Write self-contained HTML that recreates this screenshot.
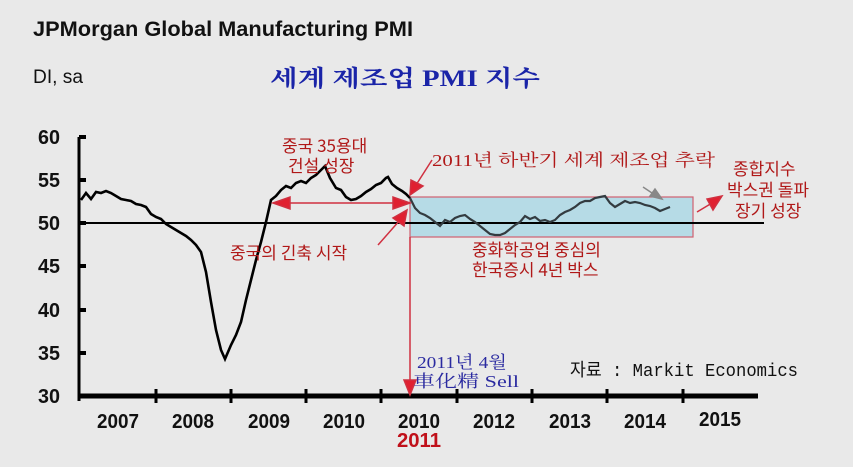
<!DOCTYPE html>
<html><head><meta charset="utf-8"><style>
body{margin:0;background:#e9e9e9;}
svg{display:block}
</style></head><body>
<svg width="853" height="467" viewBox="0 0 853 467" xmlns="http://www.w3.org/2000/svg">
<rect width="853" height="467" fill="#e9e9e9"/>
<text x="33" y="36" font-family="Liberation Sans, sans-serif" font-size="21" font-weight="bold" fill="#111" textLength="380" lengthAdjust="spacingAndGlyphs">JPMorgan Global Manufacturing PMI</text>
<text x="33" y="83" font-family="Liberation Sans, sans-serif" font-size="19" fill="#111" textLength="50" lengthAdjust="spacingAndGlyphs">DI, sa</text>
<text x="270" y="86" font-family="Liberation Serif, 'Noto Serif CJK KR', serif" font-size="23" font-weight="bold" fill="#1a24a8" textLength="270" lengthAdjust="spacingAndGlyphs">세계 제조업 PMI 지수</text>
<g font-family="Liberation Sans, sans-serif" font-size="20" font-weight="bold" fill="#111" text-anchor="end">
<text x="60" y="144" textLength="22" lengthAdjust="spacingAndGlyphs">60</text><text x="60" y="187" textLength="22" lengthAdjust="spacingAndGlyphs">55</text><text x="60" y="230" textLength="22" lengthAdjust="spacingAndGlyphs">50</text>
<text x="60" y="273" textLength="22" lengthAdjust="spacingAndGlyphs">45</text><text x="60" y="317" textLength="22" lengthAdjust="spacingAndGlyphs">40</text><text x="60" y="360" textLength="22" lengthAdjust="spacingAndGlyphs">35</text><text x="60" y="403" textLength="22" lengthAdjust="spacingAndGlyphs">30</text>
</g>
<rect x="410" y="197" width="283" height="40" fill="#b6dbe6" stroke="#d06070" stroke-width="1.2"/>
<line x1="79" y1="137" x2="79" y2="401" stroke="#000" stroke-width="3"/>
<g stroke="#000" stroke-width="4"><line x1="79" y1="137" x2="86" y2="137"/><line x1="79" y1="180" x2="86" y2="180"/><line x1="79" y1="223" x2="86" y2="223"/><line x1="79" y1="266" x2="86" y2="266"/><line x1="79" y1="310" x2="86" y2="310"/><line x1="79" y1="353" x2="86" y2="353"/></g>
<line x1="79" y1="223" x2="764" y2="223" stroke="#000" stroke-width="2"/>
<line x1="79" y1="396" x2="758" y2="396" stroke="#000" stroke-width="5"/>
<g stroke="#000" stroke-width="3"><line x1="156" y1="389" x2="156" y2="403"/><line x1="231" y1="389" x2="231" y2="403"/><line x1="306" y1="389" x2="306" y2="403"/><line x1="381" y1="389" x2="381" y2="403"/><line x1="457" y1="389" x2="457" y2="403"/><line x1="532" y1="389" x2="532" y2="403"/><line x1="607" y1="389" x2="607" y2="403"/><line x1="683" y1="389" x2="683" y2="403"/></g>
<g font-family="Liberation Sans, sans-serif" font-size="20" font-weight="bold" fill="#111" text-anchor="middle" lengthAdjust="spacingAndGlyphs">
<text x="118" y="428" textLength="42" lengthAdjust="spacingAndGlyphs">2007</text><text x="193" y="428" textLength="42" lengthAdjust="spacingAndGlyphs">2008</text><text x="269" y="428" textLength="42" lengthAdjust="spacingAndGlyphs">2009</text><text x="344" y="428" textLength="42" lengthAdjust="spacingAndGlyphs">2010</text><text x="419" y="428" textLength="42" lengthAdjust="spacingAndGlyphs">2010</text><text x="494" y="428" textLength="42" lengthAdjust="spacingAndGlyphs">2012</text><text x="570" y="428" textLength="42" lengthAdjust="spacingAndGlyphs">2013</text><text x="645" y="428" textLength="42" lengthAdjust="spacingAndGlyphs">2014</text><text x="720" y="426" textLength="42" lengthAdjust="spacingAndGlyphs">2015</text>
<text x="419" y="447" fill="#c0101a" textLength="44" lengthAdjust="spacingAndGlyphs">2011</text>
</g>
<polyline fill="none" stroke="#000" stroke-width="2.6" points="81,200 86,193 91,199 96,192 101,193 106,191 111,193 116,196 121,199 126,200 131,201 136,204 141,205 146,207 151,214 156,217 161,219 166,224 171,227 176,230 181,233 186,236 191,240 196,245 201,252 206,272 211,302 216,330 221,350 225,359 231,345 236,335 241,322 246,300 251,280 256,260 261,242 266,222 271,200 276,196 281,190 286,186 291,188 296,183 301,181 306,183 311,178 316,175 321,170 325,166 330,178 336,188 341,190 346,197 351,200 356,199 361,196 366,192 371,189 376,185 381,183 386,178 388,177 392,184 397,188 402,191 406,194 410,198"/>
<polyline fill="none" stroke="#333b40" stroke-width="2.2" points="410,198 415,208 420,213 425,215 430,218 435,222 440,226 445,220 450,222 455,218 460,216 465,215 470,219 475,222 480,226 485,230 490,234 495,235 500,235 505,233 510,229 515,225 520,222 525,216 530,219 535,217 540,221 545,220 550,222 555,220 560,215 565,212 570,210 575,207 580,203 585,201 590,201 595,198 600,197 605,196 610,203 615,207 620,204 625,201 630,203 635,202 640,203 645,205 650,206 655,208 660,211 665,209 670,207"/>
<g fill="#b01818" font-family="'Noto Sans CJK KR', sans-serif" font-size="17">
<text x="282" y="152">중국 35용대</text><text x="288" y="172">건설 성장</text>
<text x="432" y="166" font-family="Liberation Serif,'Noto Serif CJK KR',serif" textLength="283" lengthAdjust="spacingAndGlyphs">2011년 하반기 세계 제조업 추락</text>
<text x="733" y="175">종합지수</text><text x="727" y="196">박스권 돌파</text><text x="735" y="217">장기 성장</text>
<text x="230" y="259">중국의 긴축 시작</text>
<text x="472" y="256">중화학공업 중심의</text><text x="472" y="276">한국증시 4년 박스</text>
</g>
<g stroke="#d03040" stroke-width="1.5" fill="#e02030">
<line x1="283" y1="203" x2="400" y2="203"/>
<polygon points="273,203 290,197 290,209"/><polygon points="410,203 393,197 393,209"/>
<line x1="432" y1="160" x2="416" y2="185"/><polygon points="410,195 411,180 423,186"/>
<line x1="378" y1="245" x2="400" y2="220"/><polygon points="407,210 404,226 393,218"/>
<line x1="697" y1="212" x2="712" y2="203"/><polygon points="722,196 707,199 713,210"/>
<line x1="410" y1="237" x2="410" y2="385"/><polygon points="404,380 416,380 410,395"/>
</g>
<g stroke="#888" stroke-width="1.5" fill="#888"><line x1="643" y1="187" x2="655" y2="195"/><polygon points="662,199 650,196 655,189"/></g>
<text x="417" y="368" font-family="Liberation Serif,'Noto Serif CJK KR',serif" font-size="17" fill="#2a2aa0" textLength="90" lengthAdjust="spacingAndGlyphs">2011년 4월</text>
<text x="413" y="387" font-family="Liberation Serif,'Noto Serif CJK SC',serif" font-size="17" fill="#2a2aa0" textLength="106" lengthAdjust="spacingAndGlyphs">車化精 Sell</text>
<text x="570" y="376" font-family="Liberation Mono,'Noto Sans CJK KR',monospace" font-size="18" fill="#111" textLength="228" lengthAdjust="spacingAndGlyphs">자료 : Markit Economics</text>
</svg>
</body></html>
